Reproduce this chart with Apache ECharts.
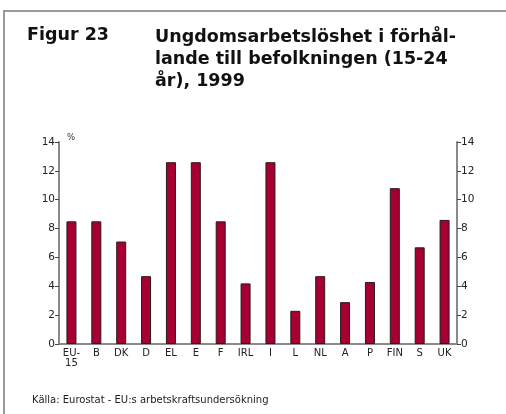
<!DOCTYPE html>
<html lang="sv">
<head>
	<meta charset="utf-8">
	<title>Figur 23</title>
	<script src="https://cdn.jsdelivr.net/npm/echarts@6/dist/echarts.min.js"></script>
	<style>
		html, body { margin: 0; padding: 0; background: #fff; }
		#chart { width: 506px; height: 414px; }
	</style>
</head>
<body>
	<div id="chart"></div>
	<script>
		// länder och värden (%)
		const countries = ['EU-\n15', 'B', 'DK', 'D', 'EL', 'E', 'F', 'IRL', 'I', 'L', 'NL', 'A', 'P', 'FIN', 'S', 'UK'];
		const values = [8.5, 8.5, 7.1, 4.7, 12.6, 12.6, 8.5, 4.2, 12.6, 2.3, 4.7, 2.9, 4.3, 10.8, 6.7, 8.6];
		const titleLeft = 'Figur 23';
		const titleText = 'Ungdomsarbetslöshet i förhål-\nlande till befolkningen (15-24\når), 1999';
		const source = 'Källa: Eurostat - EU:s arbetskraftsundersökning';

		const font = 'DejaVu Sans';
		const axisGrey = '#8a8a8a';

		let chart = echarts.init(document.getElementById('chart'), null, { renderer: 'canvas' });

		let yAxisCommon = {
			type: 'value',
			min: 0,
			max: 14,
			interval: 2,
			splitLine: { show: false },
			axisLine: { show: true, lineStyle: { color: axisGrey, width: 2 } },
			axisTick: { show: true, length: 4, lineStyle: { color: '#444' } },
			axisLabel: { color: '#222', fontSize: 10.5, fontFamily: font, margin: 4 }
		};

		let option = {
			animation: false,
			backgroundColor: '#fff',
			grid: { left: 59, right: 49, top: 142, bottom: 70 },
			graphic: [
				{
					type: 'polyline',
					shape: { points: [[4, 414], [4, 11], [506, 11]] },
					style: { stroke: '#9a9a9a', lineWidth: 2, fill: null }
				},
				{
					type: 'text', left: 27, top: 26,
					style: { text: titleLeft, fontFamily: font, fontWeight: 'bold', fontSize: 17.5, fill: '#111' }
				},
				{
					type: 'text', left: 155, top: 26,
					style: { text: titleText, fontFamily: font, fontWeight: 'bold', fontSize: 17.5, lineHeight: 22, fill: '#111' }
				},
				{
					type: 'text', left: 67, top: 133,
					style: { text: '%', fontFamily: font, fontSize: 8.5, fill: '#333' }
				},
				{
					type: 'text', left: 32, top: 395,
					style: { text: source, fontFamily: font, fontSize: 10, fill: '#222' }
				}
			],
			xAxis: {
				type: 'category',
				data: countries,
				axisLine: { lineStyle: { color: axisGrey, width: 2 } },
				axisTick: { show: false },
				axisLabel: { color: '#222', fontSize: 10, fontFamily: font, interval: 0, margin: 4, lineHeight: 10 }
			},
			yAxis: [
				Object.assign({}, yAxisCommon, { position: 'left' }),
				Object.assign({}, yAxisCommon, { position: 'right' })
			],
			series: [{
				type: 'bar',
				data: values,
				barWidth: 10,
				itemStyle: { color: '#a60032', borderColor: '#2a1a1a', borderWidth: 1 }
			}]
		};

		chart.setOption(option);
	</script>
</body>
</html>
